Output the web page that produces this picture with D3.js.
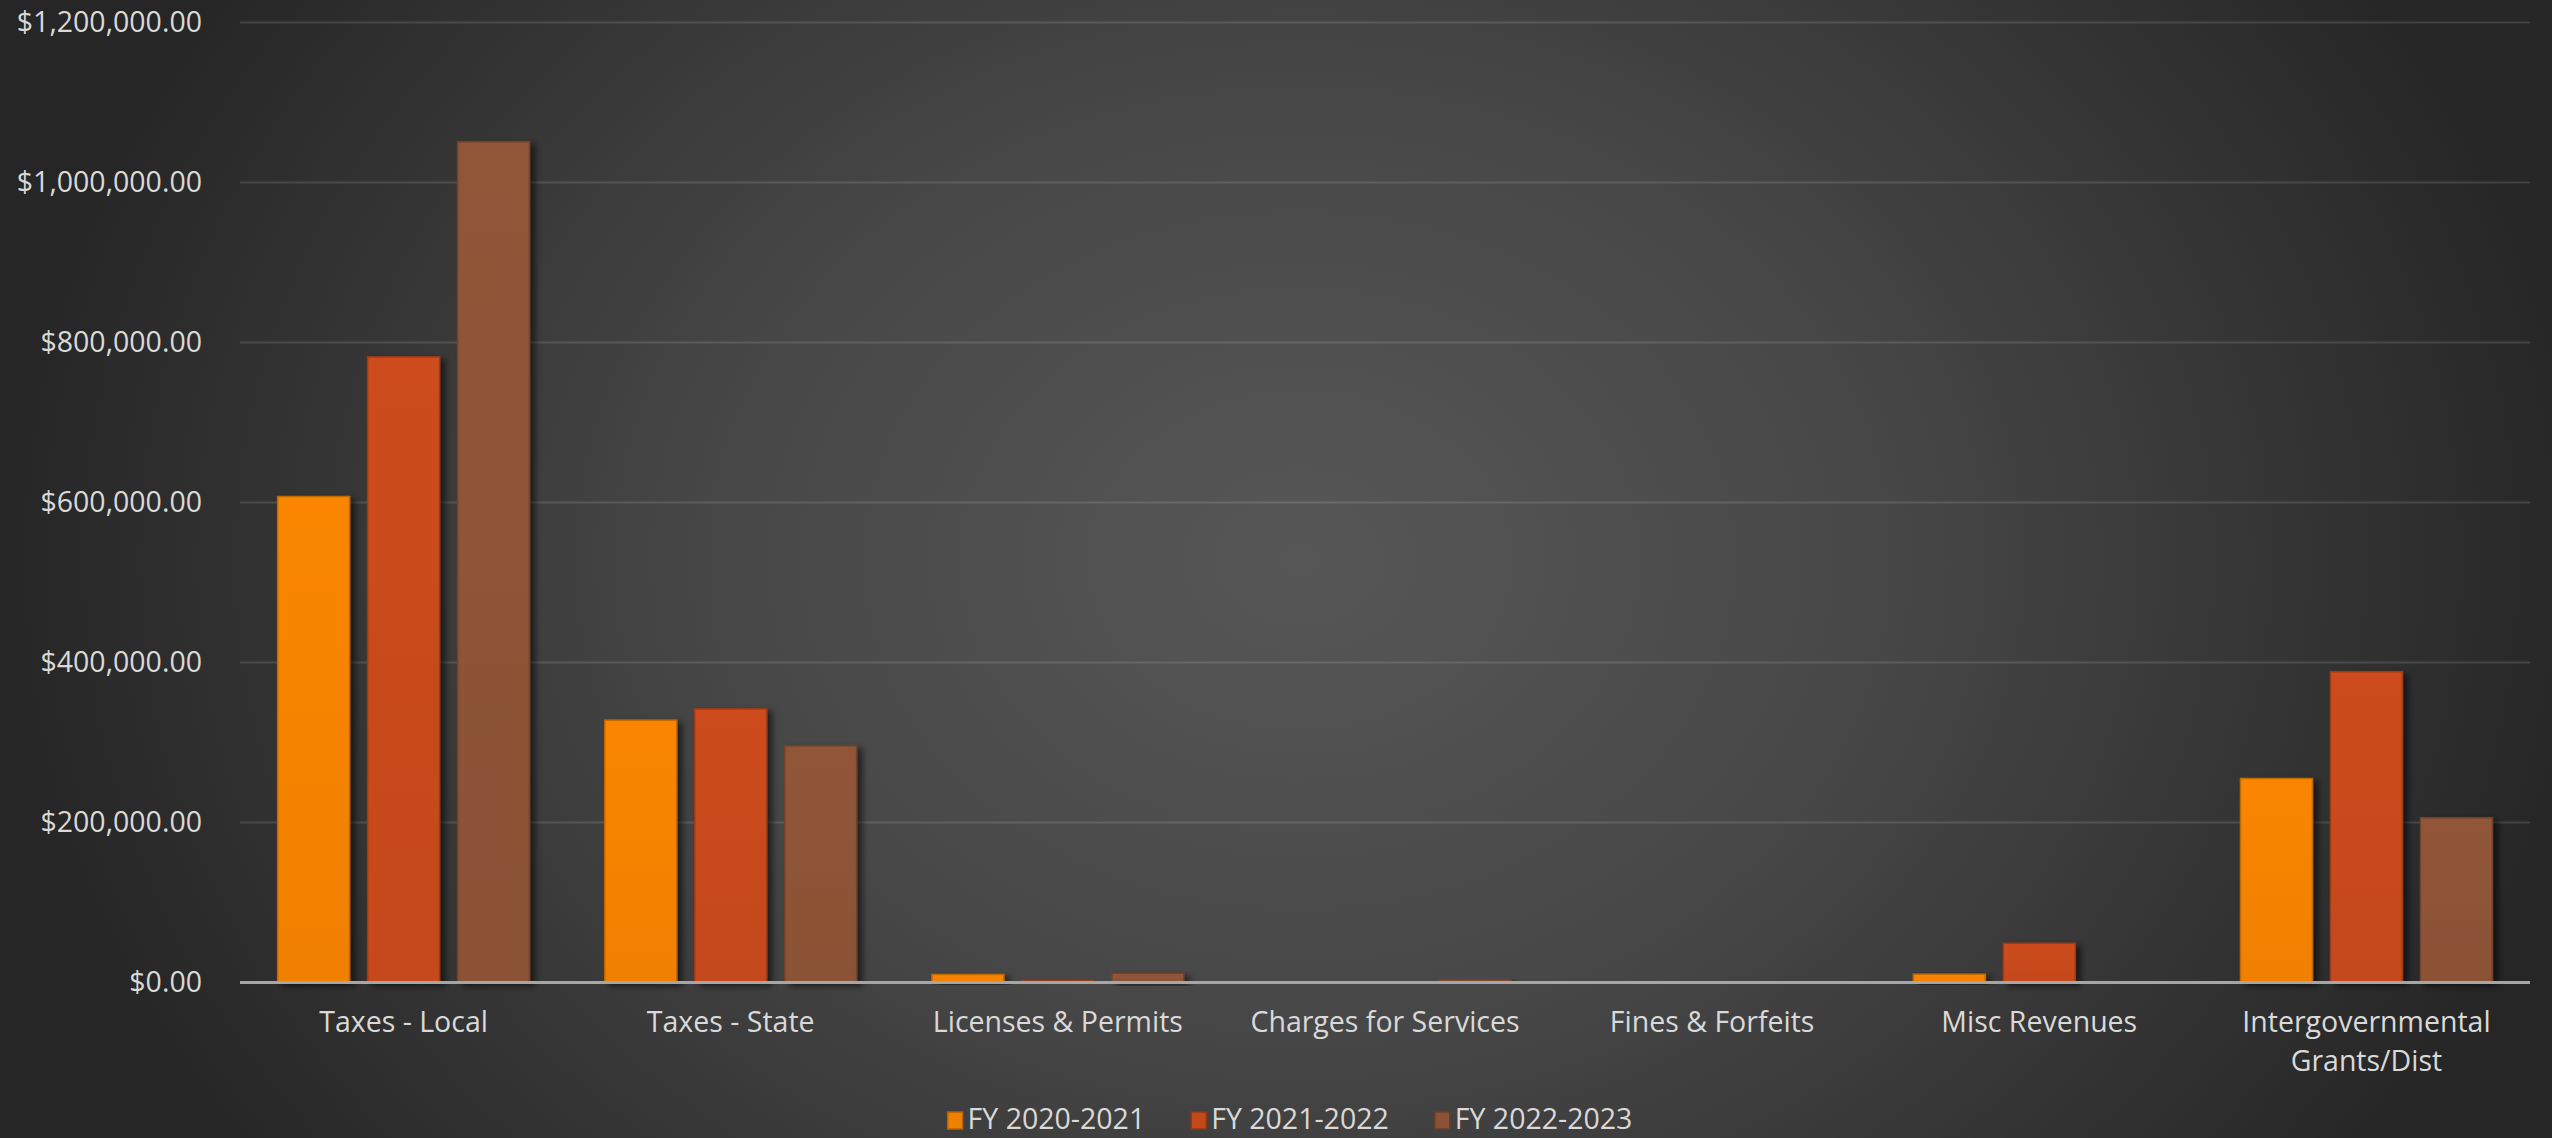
<!DOCTYPE html>
<html>
<head>
<meta charset="utf-8">
<script src="https://cdn.jsdelivr.net/npm/d3@7"></script>
<style>
  html, body { margin: 0; padding: 0; background: #262626; }
  svg { display: block; }
  text { font-family: "Open Sans", "Noto Sans", sans-serif; fill: #d9d9d9; }
</style>
</head>
<body>
<svg id="chart" width="2552" height="1138"></svg>
<script>
// ---- data ----
const categories = ["Taxes - Local", "Taxes - State", "Licenses & Permits", "Charges for Services", "Fines & Forfeits", "Misc Revenues", "Intergovernmental Grants/Dist"];
const seriesNames = ["FY 2020-2021", "FY 2021-2022", "FY 2022-2023"];
const fy2021 = [607500, 328000, 10000, 500, 800, 10400, 255000];
const fy2122 = [782000, 342000, 2000, 0, 0, 49000, 388500];
const fy2223 = [1051000, 296000, 11600, 3300, 500, 500, 206000];
const yTicks = [0, 200000, 400000, 600000, 800000, 1000000, 1200000];
const seriesColors = ["#F08000", "#C4491A", "#8B5236"];

const seriesValues = [fy2021, fy2122, fy2223];

(function () {
const W = 2552, H = 1138;
const FS = 28.5;
const svg = d3.select("#chart");
const defs = svg.append("defs");

// background radial gradient
const bg = defs.append("radialGradient").attr("id", "bg")
  .attr("gradientUnits", "userSpaceOnUse")
  .attr("cx", 1300).attr("cy", 560).attr("r", 1300)
  .attr("gradientTransform", "translate(1300,560) scale(1,0.8) translate(-1300,-560)");
bg.append("stop").attr("offset", "0").attr("stop-color", "#575757");
bg.append("stop").attr("offset", "0.45").attr("stop-color", "#474747");
bg.append("stop").attr("offset", "1").attr("stop-color", "#262626");
svg.append("rect").attr("width", W).attr("height", H).attr("fill", "url(#bg)");

// bar shadow
const f = defs.append("filter").attr("id", "shadow").attr("x", "-20%").attr("y", "-20%").attr("width", "150%").attr("height", "150%");
f.append("feDropShadow").attr("dx", 5).attr("dy", 3).attr("stdDeviation", 3)
  .attr("flood-color", "#000").attr("flood-opacity", 0.55);

// bar gradients (subtle)
seriesColors.forEach((c, i) => {
  const g = defs.append("linearGradient").attr("id", "bar" + i)
    .attr("x1", 0).attr("y1", 0).attr("x2", 0).attr("y2", 1);
  g.append("stop").attr("offset", 0).attr("stop-color", d3.color(c).brighter(0.12));
  g.append("stop").attr("offset", 1).attr("stop-color", c);
});

// scales
const plotLeft = 240, plotRight = 2530, plotTop = 22.5, zeroY = 982.5;
const y = d3.scaleLinear().domain([0, 1200000]).range([zeroY, plotTop]);
const x0 = d3.scaleBand().domain(categories).range([plotLeft, plotRight]).paddingInner(0.23).paddingOuter(0.115);
const x1 = d3.scaleBand().domain(seriesNames).range([0, x0.bandwidth()]).paddingInner(0.2).paddingOuter(0);

// gridlines
svg.append("g").selectAll("line").data(yTicks.filter(d => d > 0)).join("line")
  .attr("x1", plotLeft).attr("x2", plotRight)
  .attr("y1", d => y(d)).attr("y2", d => y(d))
  .attr("stroke", "rgba(255,255,255,0.13)").attr("stroke-width", 2);

// y axis
const yAxis = svg.append("g").attr("transform", `translate(${plotLeft},0)`)
  .call(d3.axisLeft(y).tickValues(yTicks).tickFormat(d3.format("$,.2f")).tickSize(0).tickPadding(38));
yAxis.select(".domain").remove();
yAxis.selectAll("text").attr("font-size", FS).attr("fill", "#d9d9d9")
  .attr("font-family", "'Open Sans', sans-serif");

// bars
const rows = categories.map((c, ci) => ({ cat: c, vals: seriesNames.map((s, si) => ({ s, si, v: seriesValues[si][ci] })) }));
const groups = svg.append("g").selectAll("g").data(rows).join("g")
  .attr("transform", d => `translate(${x0(d.cat)},0)`);
groups.selectAll("rect.bar").data(d => d.vals.filter(v => v.v > 0)).join("rect")
  .attr("class", "bar")
  .attr("x", d => x1(d.s)).attr("width", x1.bandwidth())
  .attr("y", d => y(d.v)).attr("height", d => Math.max(0, zeroY - y(d.v)))
  .attr("fill", d => `url(#bar${d.si})`)
  .attr("stroke", d => d3.color(seriesColors[d.si]).darker(0.6))
  .attr("stroke-width", 1.5)
  .attr("filter", "url(#shadow)");

// baseline
svg.append("line").attr("x1", plotLeft).attr("x2", plotRight).attr("y1", zeroY).attr("y2", zeroY)
  .attr("stroke", "#a6a6a6").attr("stroke-width", 3);

// pale bottom highlight of bars
groups.selectAll("line.hl").data(d => d.vals.filter(v => v.v > 0)).join("line")
  .attr("class", "hl")
  .attr("x1", d => x1(d.s) + 1).attr("x2", d => x1(d.s) + x1.bandwidth() - 1)
  .attr("y1", zeroY - 0.5).attr("y2", zeroY - 0.5)
  .attr("stroke", d => d3.interpolateRgb(seriesColors[d.si], "#fff")(0.7))
  .attr("stroke-width", 2);

// x axis labels
const xAxis = svg.append("g").attr("transform", `translate(0,${zeroY})`)
  .call(d3.axisBottom(x0).tickSize(0).tickPadding(0));
xAxis.select(".domain").remove();
xAxis.selectAll("text").attr("font-size", FS).attr("fill", "#d9d9d9")
  .attr("font-family", "'Open Sans', sans-serif")
  .attr("dy", null).attr("y", 0)
  .each(function(d) {
    const t = d3.select(this);
    const words = d.split(" ");
    let lines = [d];
    t.text(d);
    if (this.getComputedTextLength() > 310) {
      lines = [];
      let cur = [];
      t.text("");
      const tmp = t.append("tspan");
      words.forEach(w => {
        cur.push(w);
        tmp.text(cur.join(" "));
        if (tmp.node().getComputedTextLength() > 310 && cur.length > 1) {
          cur.pop(); lines.push(cur.join(" ")); cur = [w];
        }
      });
      lines.push(cur.join(" "));
      tmp.remove();
    }
    t.text("");
    lines.forEach((ln, i) => {
      t.append("tspan").attr("x", 0).attr("y", 49 + i * 39).text(ln);
    });
  });

// legend
const legend = svg.append("g");
const legItems = legend.selectAll("g").data(seriesNames).join("g");
legItems.append("rect").attr("width", 15).attr("height", 17).attr("y", -17)
  .attr("fill", (d, i) => seriesColors[i])
  .attr("stroke", (d, i) => d3.color(seriesColors[i]).darker(0.8)).attr("stroke-width", 1.5);
legItems.append("text").attr("x", 20).attr("y", 0).attr("font-size", FS).text(d => d);
let lx = 0;
legItems.each(function() {
  const g = d3.select(this);
  g.attr("transform", `translate(${lx},0)`);
  lx += this.getBBox().width + 46;
});
const lw = lx - 46;
legend.attr("transform", `translate(${1290 - lw / 2},1129)`);
})();
</script>
</body>
</html>
